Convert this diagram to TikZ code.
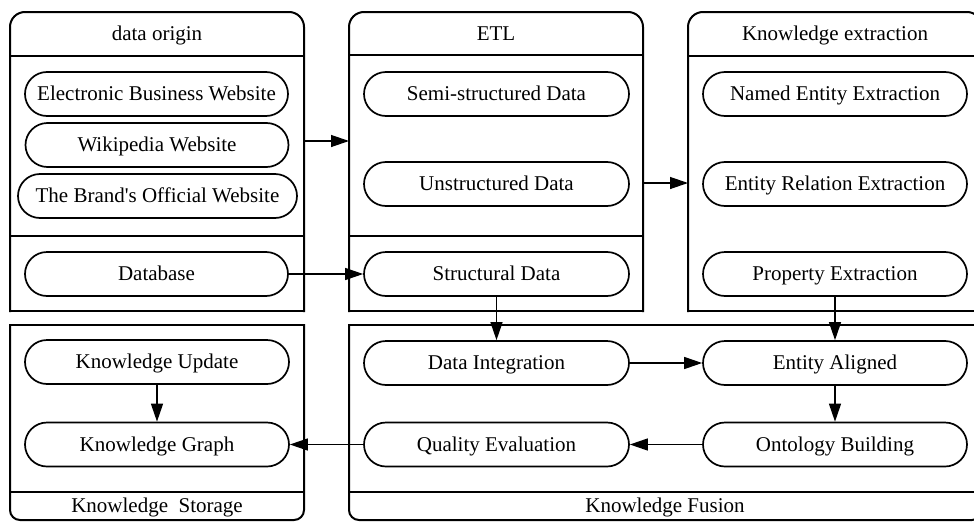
\documentclass[tikz,border=0pt]{standalone}
\usepackage{fontspec}
\setmainfont{Liberation Serif}[Ligatures=TeXOff]
\usetikzlibrary{arrows.meta}
\begin{document}
\begin{tikzpicture}[x=1pt,y=-1pt,
  panel/.style={line width=2pt, line cap=rect},
  divider/.style={line width=1.7pt},
  pill/.style={draw, line width=1.7pt, rounded corners=22pt, minimum width=263pt, minimum height=44pt, inner sep=0pt, text height=15pt, text depth=2pt, font=\fontsize{21}{25}\selectfont},
  plabel/.style={font=\fontsize{21}{25}\selectfont, inner sep=0pt, text height=15pt, text depth=2pt},
  arr/.style={line width=1.3pt, -{Triangle[length=18pt,width=12pt]}},
]
\clip (0,0) rectangle (974,522);
\fill[white] (0,0) rectangle (974,522);

% ---- top panels ----
\draw[panel, rounded corners=15pt] (10,311) -- (10,12) -- (304,12) -- (304,311);
\draw[panel] (10,311) -- (304,311);
\draw[divider] (10,56) -- (304,56);
\draw[divider] (10,236) -- (304,236);

\draw[panel, rounded corners=15pt] (349,311) -- (349,12) -- (643,12) -- (643,311);
\draw[panel] (349,311) -- (643,311);
\draw[divider] (349,55) -- (643,55);
\draw[divider] (349,236) -- (643,236);

\draw[panel, rounded corners=15pt] (688,311) -- (688,12) -- (982,12) -- (982,311);
\draw[panel] (688,311) -- (982,311);
\draw[divider] (688,56) -- (982,56);

% ---- bottom panels ----
\draw[panel, rounded corners=10pt] (10,325) -- (10,520) -- (304,520) -- (304,325);
\draw[panel] (10,325) -- (304,325);
\draw[divider] (10,492) -- (304,492);

\draw[panel, rounded corners=10pt] (349,325) -- (349,520) -- (982,520) -- (982,325);
\draw[panel] (349,325) -- (982,325);
\draw[divider] (349,492) -- (982,492);

% ---- panel labels ----
\node[plabel] (Ldo) at (157,34) {data origin};
\node[plabel] (Letl) at (496,34) {ETL};
\node[plabel] (Lke) at (835,34) {Knowledge extraction};
\node[plabel] (Lks) at (157,506) {Knowledge~~Storage};
\node[plabel] (Lkf) at (665,506) {Knowledge Fusion};

% ---- pills ----
\node[pill] (EBW) at (156.5,94) {Electronic Business Website};
\node[pill] (WW) at (157,145) {Wikipedia Website};
\node[pill, minimum width=279pt] (TBO) at (157.5,196) {The Brand's Official Website};
\node[pill] (DB) at (156.5,274) {Database};

\node[pill, minimum width=265pt] (SSD) at (496.5,94) {Semi-structured Data};
\node[pill, minimum width=265pt] (UD) at (496.5,184) {Unstructured Data};
\node[pill, minimum width=265pt] (SD) at (496.5,274) {Structural Data};

\node[pill, minimum width=264pt] (NEE) at (835,94) {Named Entity Extraction};
\node[pill, minimum width=264pt] (ERE) at (835,184) {Entity Relation Extraction};
\node[pill, minimum width=264pt] (PE) at (835,274) {Property Extraction};

\node[pill, minimum width=264pt] (KU) at (157,362) {Knowledge Update};
\node[pill, minimum width=264pt] (KG) at (157,444.5) {Knowledge Graph};

\node[pill, minimum width=265pt] (DI) at (496.5,363) {Data Integration};
\node[pill, minimum width=264pt] (EA) at (835,363) {Entity Aligned};
\node[pill, minimum width=265pt] (QE) at (496.5,444.5) {Quality Evaluation};
\node[pill, minimum width=264pt] (OB) at (835,444.5) {Ontology Building};

% ---- connectors ----
\coordinate (p1out) at (304,141);
\coordinate (p2in) at (349,141);
\coordinate (p2out) at (643,183);
\coordinate (p3in) at (688,183);
\draw[arr] (p1out) -- (p2in);
\draw[arr] (p2out) -- (p3in);
\draw[arr] (DB) -- (SD);
\draw[arr] (SD) -- (DI);
\draw[arr] (PE) -- (EA);
\draw[arr] (DI) -- (EA);
\draw[arr] (EA) -- (OB);
\draw[arr] (OB) -- (QE);
\draw[arr] (QE) -- (KG);
\draw[arr] (KU) -- (KG);
\end{tikzpicture}
\end{document}
